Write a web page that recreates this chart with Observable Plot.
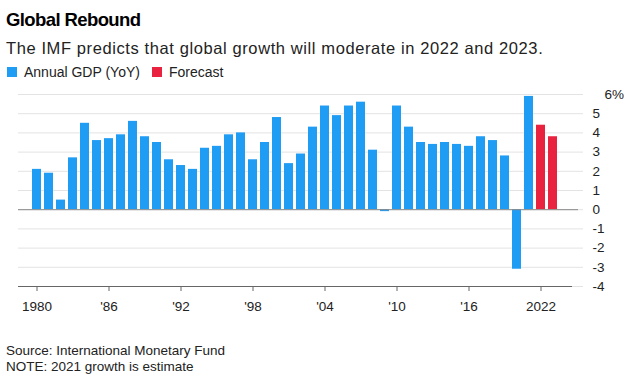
<!DOCTYPE html>
<html>
<head>
<meta charset="utf-8">
<script src="https://cdn.jsdelivr.net/npm/d3@7"></script>
<script src="https://cdn.jsdelivr.net/npm/@observablehq/plot@0.6"></script>
<style>
  html, body { margin: 0; padding: 0; background: #fff; }
  body { width: 626px; height: 385px; font-family: "Liberation Sans", Arial, sans-serif; color: #111; position: relative; overflow: hidden; }
  #title { position: absolute; left: 6px; top: 9px; font-size: 18.5px; font-weight: bold; line-height: 22px; color: #000; letter-spacing: -0.6px; }
  #subtitle { position: absolute; left: 6px; top: 38px; font-size: 16.5px; line-height: 20px; color: #222; letter-spacing: 0.6px; }
  #legend { position: absolute; left: 7px; top: 64px; font-size: 14px; line-height: 16px; color: #222; display: flex; align-items: center; }
  .sw { display: inline-block; width: 10px; height: 10px; margin-right: 7px; }
  .item { display: inline-flex; align-items: center; margin-right: 12px; }
  #chart { position: absolute; left: 0; top: 84px; }
  #footer { position: absolute; left: 6px; top: 343px; font-size: 13.5px; line-height: 16px; color: #222; }
</style>
</head>
<body>
<div id="title"></div>
<div id="subtitle"></div>
<div id="legend"></div>
<div id="chart"></div>
<div id="footer"></div>
<script>
const titleText = "Global Rebound";
const subtitleText = "The IMF predicts that global growth will moderate in 2022 and 2023.";
const seriesNames = ["Annual GDP (YoY)", "Forecast"];
const seriesColors = ["#1f9cf3", "#e8223f"];
const sourceText = "Source: International Monetary Fund";
const noteText = "NOTE: 2021 growth is estimate";

const years = d3.range(1980, 2024);
const growth = [
  2.1, 1.9, 0.5, 2.7, 4.5, 3.6, 3.7, 3.9, 4.6, 3.8,
  3.5, 2.6, 2.3, 2.1, 3.2, 3.3, 3.9, 4.0, 2.6, 3.5,
  4.8, 2.4, 2.9, 4.3, 5.4, 4.9, 5.4, 5.6, 3.1, -0.1,
  5.4, 4.3, 3.5, 3.4, 3.5, 3.4, 3.3, 3.8, 3.6, 2.8,
  -3.1, 5.9, 4.4, 3.8
];
const forecastYears = [2022, 2023];
const xTicks = [1980, 1986, 1992, 1998, 2004, 2010, 2016, 2022];
const yTicks = [-4, -3, -2, -1, 0, 1, 2, 3, 4, 5];
const yTop = 6;

document.getElementById("title").textContent = titleText;
document.getElementById("subtitle").textContent = subtitleText;
const legend = document.getElementById("legend");
seriesNames.forEach((n, i) => {
  const it = document.createElement("span");
  it.className = "item";
  it.innerHTML = `<span class="sw" style="background:${seriesColors[i]}"></span>${n}`;
  legend.appendChild(it);
});
document.getElementById("footer").innerHTML = sourceText + "<br>" + noteText;

const data = years.map((y, i) => ({
  year: y,
  value: growth[i],
  type: forecastYears.includes(y) ? seriesNames[1] : seriesNames[0]
}));

const W = 626, H = 230;
const chart = Plot.plot({
  width: W,
  height: H,
  marginTop: 10,
  marginBottom: 28,
  marginLeft: 18,
  marginRight: 43,
  style: { fontFamily: "Liberation Sans, Arial, sans-serif", fontSize: "13px", color: "#222", background: "#fff" },
  x: { type: "band", domain: years, range: [16.4, 572.6], padding: 0.28, axis: null, label: null },
  y: { domain: [-4, 6], axis: null, label: null },
  color: { domain: seriesNames, range: seriesColors },
  marks: [
    Plot.ruleY(d3.range(-4, 7), { stroke: "#e3e3e3", strokeWidth: 1 }),
    Plot.barY(data, { x: "year", y: "value", fill: "type" }),
    Plot.ruleY([0], { stroke: "#888", strokeWidth: 1, insetRight: 5 }),
    Plot.ruleY([-4], { stroke: "#666", strokeWidth: 1.2, insetRight: 11 }),
    Plot.axisX({
      ticks: xTicks,
      tickSize: 5,
      tickPadding: 10,
      stroke: "#666",
      fill: "#222",
      fontSize: 13.5,
      label: null,
      tickFormat: d => (d === 1980 || d === 2022) ? String(d) : "'" + String(d).slice(2)
    }),
    Plot.axisY({
      anchor: "right",
      ticks: yTicks,
      tickSize: 0,
      tickPadding: 9,
      textAnchor: "start",
      fill: "#222",
      fontSize: 13.5,
      label: null,
      tickFormat: d => String(d)
    }),
    Plot.text([yTop], { y: d => d, text: d => d + "%", frameAnchor: "right", textAnchor: "start", dx: 21, fill: "#222", fontSize: 13.5 })
  ]
});
document.getElementById("chart").appendChild(chart);
</script>
</body>
</html>
